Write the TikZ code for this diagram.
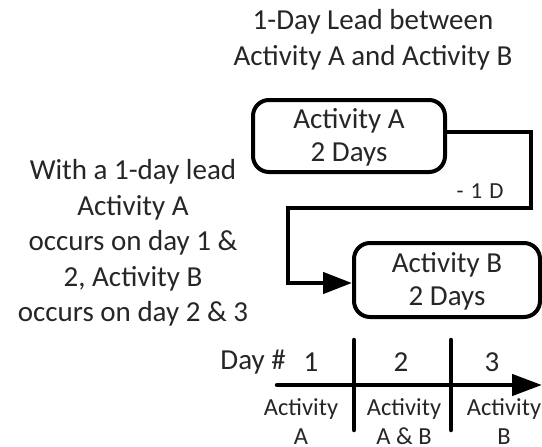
\documentclass[tikz,border=0pt]{standalone}
\usepackage{fontspec}
\setmainfont{Carlito}
\usetikzlibrary{arrows.meta}
\definecolor{txt}{HTML}{262626}
\begin{document}
\begin{tikzpicture}[x=1pt,y=-1pt,
  big/.style={text=txt,font=\fontsize{29}{35.5}\selectfont,align=center,inner sep=0pt},
  boxtext/.style={text=txt,font=\fontsize{29}{33}\selectfont,align=center,inner sep=0pt},
  small/.style={text=txt,font=\fontsize{24.5}{28.5}\selectfont,align=center,inner sep=0pt},
  actbox/.style={draw=black,line width=4pt,rounded corners=16pt,inner sep=0pt},
  link/.style={draw=black,line width=4.5pt},
  tick/.style={draw=black,line width=4.5pt,line cap=round}]
\useasboundingbox (0,0) rectangle (542,447);
% heading
\node[big] (title) at (373,40) {1-Day Lead between\\Activity A and Activity B};
% activity boxes
\node[actbox,minimum width=192pt,minimum height=72pt] (A) at (349,136) {};
\node[boxtext] (At) at (349,137) {Activity A\\2 Days};
\node[actbox,minimum width=186pt,minimum height=74pt] (B) at (447,280) {};
\node[boxtext] (Bt) at (447,281) {Activity B\\2 Days};
% lead link
\coordinate (a0) at ([yshift=4pt]A.east);
\coordinate (c2) at (531,208);
\coordinate (c3) at (288,208);
\coordinate (c4) at (288,283);
\coordinate (c1) at (c2 |- a0);
\coordinate (b0) at (B.west |- c4);
\draw[link,-{Triangle[length=29pt,width=21pt]}] (a0) -- (c1) -- (c2) -- (c3) -- (c4) -- (b0);
\node[text=txt,font=\fontsize{23}{26}\selectfont,inner sep=0pt] (lead) at (480,191) {-\hspace{7pt}1\hspace{7pt}D};
% explanation
\node[big] (note) at (133,243) {With a 1-day lead\\Activity A\\occurs on day 1 \&\\2, Activity B\\occurs on day 2 \& 3};
% timeline
\coordinate (t0) at (277,385);
\coordinate (t1) at (542,385);
\draw[link,line cap=round,-{Triangle[length=30pt,width=21pt]}] (t0) -- (t1);
\coordinate (k1a) at (354,340);
\coordinate (k1b) at (354,430);
\coordinate (k2a) at (451,340);
\coordinate (k2b) at (451,430);
\draw[tick] (k1a) -- (k1b);
\draw[tick] (k2a) -- (k2b);
\node[big,anchor=east] (day) at (286,362) {Day \#};
\node[big] (d1) at (311,362) {1};
\node[big] (d2) at (401,362) {2};
\node[big] (d3) at (492,362) {3};
\node[small] (l1) at (301,421.5) {Activity\\A};
\node[small] (l2) at (404,421.5) {Activity\\A \& B};
\node[small] (l3) at (504,421.5) {Activity\\B};
\end{tikzpicture}
\end{document}
